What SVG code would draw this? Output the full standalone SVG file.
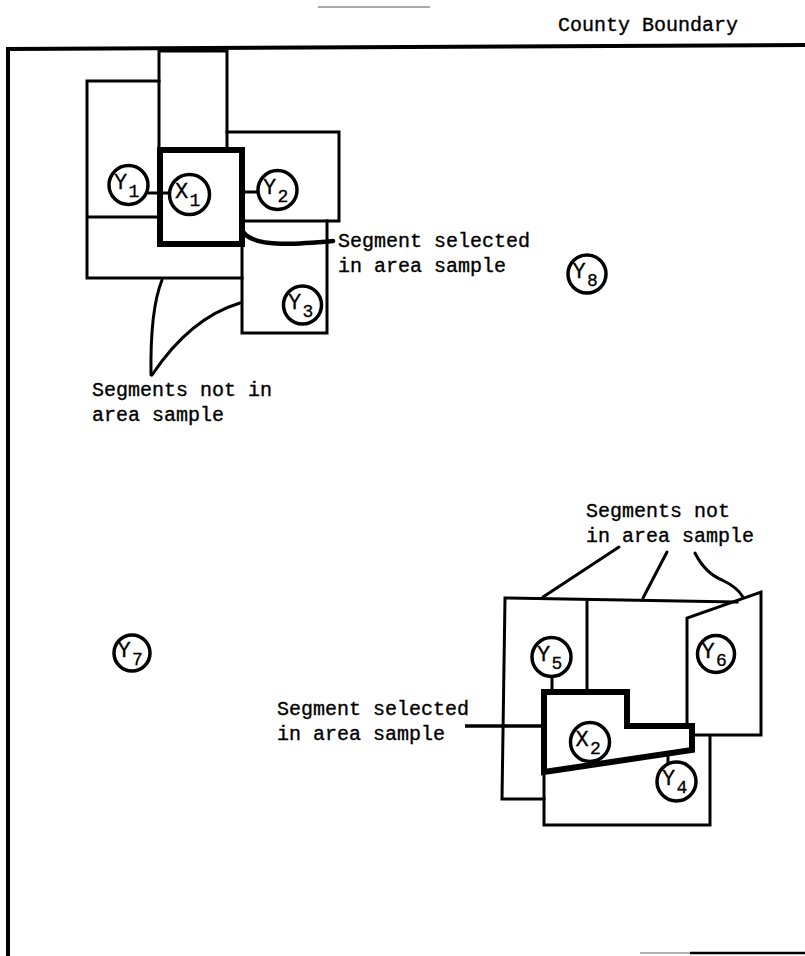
<svg xmlns="http://www.w3.org/2000/svg" width="805" height="956" viewBox="0 0 805 956">
<style>
  .ln{fill:none;stroke:#000;stroke-width:3;stroke-linejoin:miter;stroke-linecap:square}
  .thick{fill:none;stroke:#000;stroke-width:6;stroke-linejoin:miter}
  .lead{fill:none;stroke:#000;stroke-width:3;stroke-linecap:round}
  .c{fill:#fff;stroke:#000;stroke-width:3.5}
  .lbl{font-family:"Liberation Mono","DejaVu Sans Mono",monospace;font-size:20px;fill:#000;stroke:#000;stroke-width:0.35}
  .nm{font-family:"Liberation Mono","DejaVu Sans Mono",monospace;font-size:22px;fill:#000;stroke:#000;stroke-width:0.3}
  .sb{font-family:"Liberation Mono","DejaVu Sans Mono",monospace;font-size:18px;fill:#000;stroke:#000;stroke-width:0.3}
</style>
<rect width="805" height="956" fill="#fff"/>
<g id="page-marks">
  <line x1="318" y1="7" x2="430" y2="7" stroke="#555" stroke-width="1.2"/>
  <line x1="640" y1="953" x2="690" y2="953" stroke="#999" stroke-width="1.5"/>
  <line x1="690" y1="953" x2="805" y2="953" stroke="#000" stroke-width="2.5"/>
</g>
<g id="county-boundary">
  <path d="M8,956 L8,49 L805,45" fill="none" stroke="#000" stroke-width="4"/>
  <text class="lbl" x="558" y="31">County Boundary</text>
</g>
<g id="segments-top">
  <path class="ln" d="M159,51 L227,51 M159,51 L159,150 M227,51 L227,150"/>
  <path class="ln" d="M159,81 L87,81 L87,278 L242,278 M87,217 L160,217"/>
  <path class="ln" d="M227,132 L339,132 L339,221 L242,221"/>
  <path class="ln" d="M327,221 L327,333 L242,333 L242,243"/>
  <rect id="segment-X1" class="thick" x="160" y="150" width="82" height="94"/>
</g>
<g id="segments-bottom">
  <path class="ln" d="M505,598 L502,799 L544,799 M505,598 L737,602 M587,600 L587,692"/>
  <path class="ln" d="M687,726 L687,618 L761,592 L761,735 L692,735"/>
  <path class="ln" d="M544,772 L544,825 L710,825 L710,736"/>
  <path id="segment-X2" class="thick" d="M544,692 L627,692 L627,726 L692,726 L692,750 L544,772 Z"/>
</g>
<g id="connectors">
  <line class="ln" x1="149" y1="193" x2="168" y2="193"/>
  <line class="ln" x1="242" y1="192" x2="258" y2="192"/>
  <line class="ln" x1="552" y1="677" x2="552" y2="690"/>
  <line class="ln" x1="668" y1="756" x2="668" y2="762"/>
  <path class="lead" d="M162,280 Q150,310 151,375"/>
  <path class="lead" d="M152,375 Q190,318 240,303"/>
  <path d="M244,233 C256,248 300,244 333,241" fill="none" stroke="#000" stroke-width="4.5" stroke-linecap="round"/>
  <line x1="465" y1="726" x2="544" y2="726" stroke="#000" stroke-width="3.5"/>
  <path class="lead" d="M619,547 L543,597"/>
  <path class="lead" d="M667,552 L643,598"/>
  <path class="lead" d="M695,553 Q705,573 722,580 Q737,587 743,597"/>
</g>
<g id="label-selected-top">
  <text class="lbl" x="338" y="247">Segment selected</text>
  <text class="lbl" x="338" y="272">in area sample</text>
</g>
<g id="label-not-top">
  <text class="lbl" x="92" y="396">Segments not in</text>
  <text class="lbl" x="92" y="421">area sample</text>
</g>
<g id="label-not-bottom">
  <text class="lbl" x="586" y="517">Segments not</text>
  <text class="lbl" x="586" y="542">in area sample</text>
</g>
<g id="label-selected-bottom">
  <text class="lbl" x="277" y="715">Segment selected</text>
  <text class="lbl" x="277" y="740">in area sample</text>
</g>
<g id="node-Y1"><circle class="c" cx="128.5" cy="185" r="19.5"/><text class="nm" x="114" y="189">Y</text><text class="sb" x="128.5" y="197">1</text></g>
<g id="node-X1"><circle class="c" cx="189.5" cy="194.5" r="20"/><text class="nm" x="175" y="198">X</text><text class="sb" x="189.5" y="206">1</text></g>
<g id="node-Y2"><circle class="c" cx="277.5" cy="190" r="19.5"/><text class="nm" x="263" y="194">Y</text><text class="sb" x="277.5" y="202">2</text></g>
<g id="node-Y3"><circle class="c" cx="302.5" cy="305" r="19"/><text class="nm" x="288" y="309">Y</text><text class="sb" x="302.5" y="317">3</text></g>
<g id="node-Y8"><circle class="c" cx="587" cy="274" r="19"/><text class="nm" x="572.5" y="278">Y</text><text class="sb" x="587" y="286">8</text></g>
<g id="node-Y7"><circle class="c" cx="132" cy="653" r="18"/><text class="nm" x="117.5" y="657">Y</text><text class="sb" x="132" y="665">7</text></g>
<g id="node-Y5"><circle class="c" cx="551.5" cy="657" r="19.5"/><text class="nm" x="537" y="661">Y</text><text class="sb" x="551.5" y="669">5</text></g>
<g id="node-Y6"><circle class="c" cx="716" cy="654" r="18.5"/><text class="nm" x="701.5" y="658">Y</text><text class="sb" x="716" y="666">6</text></g>
<g id="node-X2"><circle class="c" cx="590" cy="742" r="19.5"/><text class="nm" x="575.5" y="746">X</text><text class="sb" x="590" y="754">2</text></g>
<g id="node-Y4"><circle class="c" cx="676.5" cy="781.5" r="19.5"/><text class="nm" x="662" y="785">Y</text><text class="sb" x="676.5" y="793">4</text></g>
</svg>
